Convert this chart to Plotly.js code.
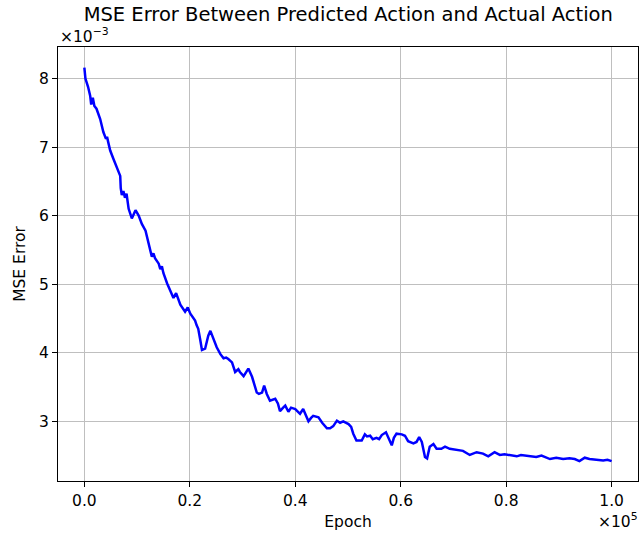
<!DOCTYPE html>
<html>
<head>
<meta charset="utf-8">
<script src="https://cdn.plot.ly/plotly-3.0.1.min.js"></script>
<style>html,body{margin:0;padding:0;background:#fff;}#chart{width:639px;height:534px;}</style>
</head>
<body>
<div id="chart"></div>
<script>
// Epoch values
var epochs = [0,200,700,1100,1300,1600,1900,2300,3000,3600,4100,4300,4500,4900,5500,6300,6800,6900,7100,7400,7700,8000,8400,9000,9700,10300,10900,11600,12200,12800,13100,13400,14100,14400,14700,15000,15700,16300,16900,17400,18200,19100,19600,20100,21000,21300,21600,22000,22300,22900,23500,23900,24500,25100,25800,26400,26900,27300,28000,28600,29200,29500,30200,30700,31100,31800,32200,32700,33100,33700,34100,34600,35200,35800,36200,36700,37100,37700,38100,38700,39200,40000,40500,40900,41500,42000,42500,43000,43400,44400,45100,46000,46600,47200,47900,48500,49100,50100,50600,51000,51600,52600,53200,53600,54200,54700,55400,55900,56400,57200,57600,58000,58300,58700,59200,60200,60800,61400,62400,63000,63500,64000,64300,64600,65000,65500,66200,66800,67700,68400,69300,70600,71800,73100,74400,75600,76600,77800,78800,79700,80700,82000,82800,83800,84700,85700,86700,87500,88300,89500,90800,92000,93000,93900,94900,95800,97100,98400,99200,100000];
// MSE values (in units of 1e-3)
var mseMilli = [8.16,8.00,7.88,7.75,7.62,7.72,7.60,7.56,7.41,7.22,7.12,7.15,7.08,6.95,6.83,6.68,6.58,6.40,6.30,6.36,6.26,6.32,6.10,5.96,6.08,6.00,5.88,5.78,5.57,5.40,5.45,5.38,5.30,5.22,5.26,5.16,5.01,4.89,4.80,4.87,4.70,4.60,4.66,4.57,4.47,4.40,4.35,4.18,4.04,4.06,4.25,4.32,4.20,4.08,3.98,3.92,3.93,3.91,3.86,3.72,3.76,3.72,3.66,3.72,3.77,3.65,3.55,3.42,3.40,3.42,3.52,3.40,3.30,3.32,3.33,3.26,3.15,3.20,3.23,3.14,3.20,3.18,3.14,3.11,3.18,3.10,3.00,3.05,3.08,3.06,2.98,2.90,2.90,2.93,3.01,2.98,3.00,2.96,2.92,2.82,2.72,2.72,2.81,2.78,2.79,2.74,2.76,2.74,2.80,2.84,2.76,2.70,2.65,2.76,2.82,2.81,2.79,2.71,2.68,2.70,2.77,2.70,2.58,2.48,2.46,2.63,2.67,2.60,2.60,2.63,2.60,2.58,2.57,2.51,2.55,2.53,2.49,2.55,2.51,2.52,2.51,2.49,2.51,2.50,2.50,2.48,2.50,2.47,2.45,2.47,2.45,2.46,2.45,2.42,2.47,2.45,2.44,2.43,2.44,2.42];

var xTickVals = [0,20000,40000,60000,80000,100000];
var xTickText = ['0.0','0.2','0.4','0.6','0.8','1.0'];
var yTickVals = [0.003,0.004,0.005,0.006,0.007,0.008];
var yTickText = ['3','4','5','6','7','8'];

var mse = mseMilli.map(function(v){ return v * 1e-3; });

var font = {family: 'DejaVu Sans, sans-serif', color: '#000', size: 15.5};

var trace = {
  x: epochs, y: mse, type: 'scatter', mode: 'lines',
  line: {color: '#0000ff', width: 2.5}, hoverinfo: 'skip'
};

var axisCommon = {
  showline: true, mirror: true, linecolor: '#000', linewidth: 1,
  ticks: 'outside', ticklen: 5, tickwidth: 1, tickcolor: '#000',
  showgrid: true, gridcolor: '#bfbfbf', gridwidth: 1, zeroline: false,
  tickfont: font
};

var layout = {
  width: 639, height: 534,
  margin: {l: 58, r: 1, t: 47, b: 53},
  paper_bgcolor: '#fff', plot_bgcolor: '#fff',
  showlegend: false,
  font: font,
  title: {text: 'MSE Error Between Predicted Action and Actual Action', font: {family: 'DejaVu Sans, sans-serif', size: 19.5, color: '#000'}, x: 0.545, xanchor: 'center', y: 0.974, yanchor: 'middle', xref: 'container'},
  xaxis: Object.assign({}, axisCommon, {
    range: [-5000, 105000], tickvals: xTickVals, ticktext: xTickText,
    title: {text: 'Epoch', font: font, standoff: 7}
  }),
  yaxis: Object.assign({}, axisCommon, {
    range: [0.00213, 0.00846], tickvals: yTickVals, ticktext: yTickText,
    title: {text: 'MSE Error', font: font, standoff: 9}
  }),
  annotations: [
    {text: '×10<sup>−3</sup>', xref: 'paper', yref: 'paper', x: 0, y: 1, xanchor: 'left', yanchor: 'bottom', showarrow: false, font: font, yshift: -1},
    {text: '×10<sup>5</sup>', xref: 'paper', yref: 'paper', x: 1, y: 0, xanchor: 'right', yanchor: 'top', showarrow: false, font: font, yshift: -27, xshift: 2}
  ]
};

Plotly.newPlot('chart', [trace], layout, {displayModeBar: false, staticPlot: true});
</script>
</body>
</html>
